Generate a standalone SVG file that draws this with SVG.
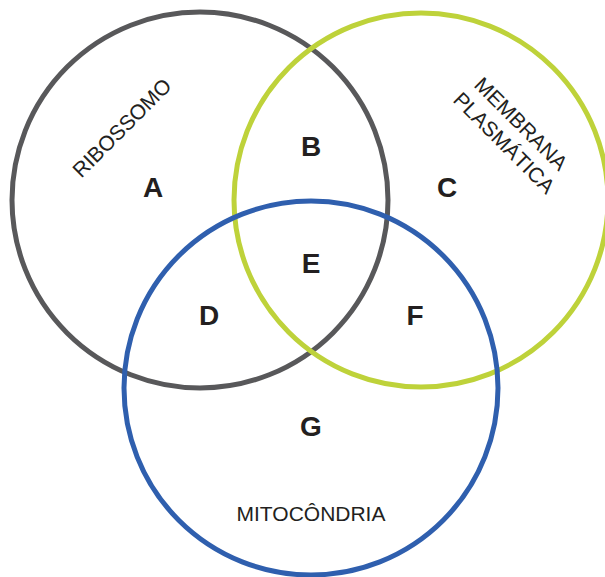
<svg xmlns="http://www.w3.org/2000/svg" width="605" height="577" viewBox="0 0 605 577">
<style>
.c{fill:none;stroke-width:5}
.l{font-family:"Liberation Sans",Arial,sans-serif;font-weight:bold;font-size:28px;fill:#231f20;text-anchor:middle}
.t{font-family:"Liberation Sans",Arial,sans-serif;font-size:21px;fill:#231f20;text-anchor:middle}
</style>
<rect width="605" height="577" fill="#fff"/>
<g id="ribossomo">
<circle class="c" cx="200" cy="200" r="188" stroke="#58585a"/>
<text class="t" transform="translate(127,133) rotate(-45)">RIBOSSOMO</text>
</g>
<g id="membrana">
<circle class="c" cx="421" cy="200" r="187" stroke="#bed23a"/>
<text class="t" transform="translate(516,129) rotate(45)">MEMBRANA</text>
<text class="t" transform="translate(499,148) rotate(45)">PLASMÁTICA</text>
</g>
<g id="mitocondria">
<circle class="c" cx="311" cy="388" r="187" stroke="#2f5fae"/>
<text class="t" x="311" y="521">MITOCÔNDRIA</text>
</g>
<g id="labels">
<text class="l" x="153" y="197">A</text>
<text class="l" x="311" y="156">B</text>
<text class="l" x="447" y="197">C</text>
<text class="l" x="209" y="325">D</text>
<text class="l" x="311" y="273">E</text>
<text class="l" x="415" y="325">F</text>
<text class="l" x="311" y="436">G</text>
</g>
</svg>
